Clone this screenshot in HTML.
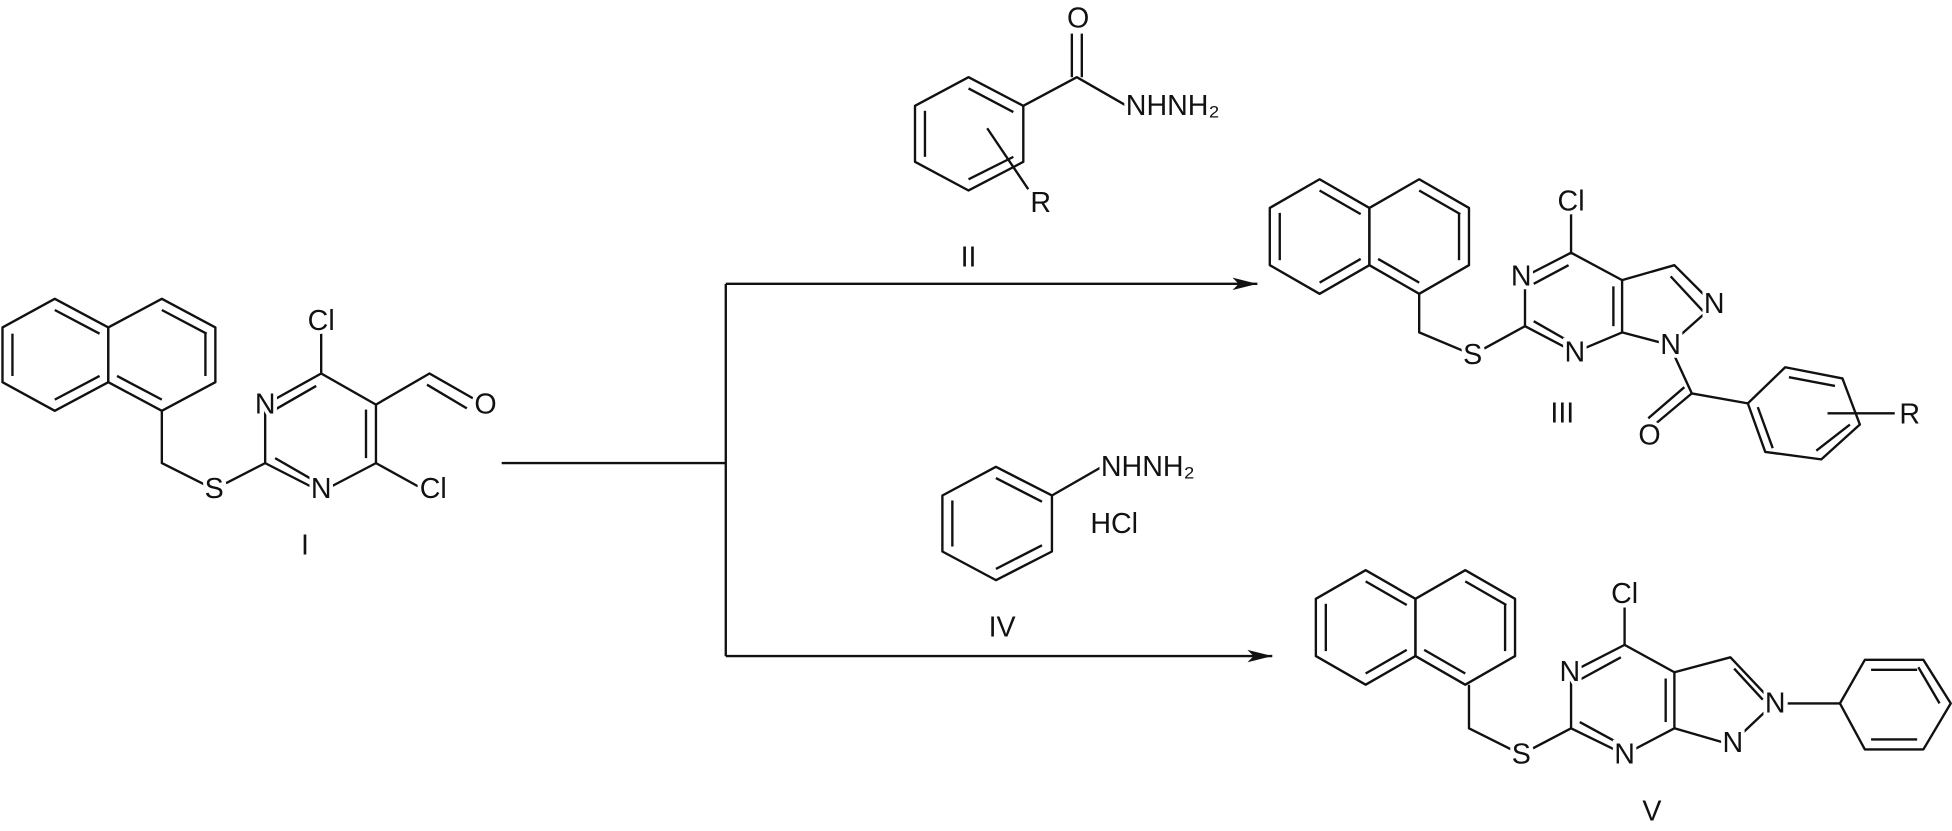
<!DOCTYPE html>
<html><head><meta charset="utf-8"><style>
html,body{margin:0;padding:0;background:#fff;}
svg{display:block;}
text{font-family:"Liberation Sans Narrow","Liberation Sans",sans-serif;font-size:23px;fill:#111;text-anchor:middle;dominant-baseline:central;paint-order:stroke;stroke:#fff;stroke-width:6px;}
</style></head><body>
<svg width="1952" height="831" viewBox="0 0 1568 667.5" xmlns="http://www.w3.org/2000/svg">
<defs><marker id="ah" markerWidth="20" markerHeight="10" refX="20" refY="5" orient="auto" markerUnits="userSpaceOnUse"><path d="M0,0 L20,5 L0,10 L5,5 z" fill="#111"/></marker></defs>
<g stroke="#111" stroke-width="1.9" fill="none" stroke-linejoin="round">
<polygon points="44,240 87,263 87,307 44,330 2,307 2,263"/>
<polygon points="130,240 173,263 173,307 130,330 87,307 87,263"/>
<line x1="10" y1="268" x2="10" y2="302"/><line x1="44" y1="249" x2="80" y2="268"/><line x1="44" y1="321" x2="80" y2="302"/>
<line x1="130" y1="249" x2="166" y2="268"/><line x1="165" y1="268" x2="165" y2="302"/><line x1="130" y1="321" x2="94" y2="302"/>
<polyline points="130,330 130,372 172,393 213,372 213,325 258,300 302,325 302,372 258,395 213,372"/>
<line x1="258" y1="300" x2="258" y2="268"/><line x1="302" y1="372" x2="340" y2="393"/>
<line x1="294" y1="329" x2="294" y2="368"/><line x1="221" y1="329" x2="254" y2="310"/><line x1="221" y1="368" x2="254" y2="387"/>
<polyline points="302,325 345,300 380,320"/><line x1="343" y1="309" x2="375" y2="328"/>
<polyline points="403,372 583,372"/>
<polyline points="583,228 583,527"/>
<line x1="583" y1="228" x2="1010" y2="228" marker-end="url(#ah)"/>
<line x1="583" y1="527" x2="1022" y2="527" marker-end="url(#ah)"/>
<polygon points="778,62 822,85 822,130 778,153 735,130 735,85"/>
<line x1="743" y1="89" x2="743" y2="126"/><line x1="778" y1="71" x2="814" y2="90"/><line x1="778" y1="144" x2="814" y2="126"/>
<polyline points="822,85 865,62 905,85"/><line x1="861" y1="62" x2="861" y2="27"/><line x1="869" y1="62" x2="869" y2="27"/>
<line x1="793" y1="103" x2="826" y2="152"/>
<polygon points="800,375 845,398 845,443 800,466 757,443 757,398"/>
<line x1="765" y1="402" x2="765" y2="439"/><line x1="800" y1="384" x2="837" y2="403"/><line x1="800" y1="457" x2="837" y2="438"/>
<line x1="845" y1="398" x2="885" y2="375"/>
<polygon points="1060,144 1100,167 1100,213 1060,236 1020,213 1020,167"/>
<polygon points="1140,144 1180,167 1180,213 1140,236 1100,213 1100,167"/>
<line x1="1028" y1="171" x2="1028" y2="209"/><line x1="1060" y1="153" x2="1093" y2="172"/><line x1="1060" y1="227" x2="1093" y2="208"/>
<line x1="1140" y1="153" x2="1173" y2="172"/><line x1="1172" y1="171" x2="1172" y2="209"/><line x1="1140" y1="227" x2="1107" y2="208"/>
<polyline points="1140,236 1140,267 1183,285 1225,262 1225,222 1262,203 1303,225 1303,267 1265,283 1225,262"/>
<line x1="1262" y1="203" x2="1262" y2="172"/>
<line x1="1232" y1="228" x2="1260" y2="213"/><line x1="1232" y1="258" x2="1260" y2="274"/><line x1="1296" y1="230" x2="1296" y2="262"/>
<polyline points="1303,225 1345,213 1377,245 1341,277 1303,267"/>
<line x1="1342" y1="222" x2="1368" y2="250"/>
<polyline points="1341,277 1359,316 1404,324"/>
<line x1="1359" y1="316" x2="1328" y2="342"/><line x1="1353" y1="311" x2="1324" y2="336"/>
<polygon points="1404,324 1434,295 1480,304 1494,341 1463,369 1418,363"/>
<line x1="1437" y1="303" x2="1474" y2="310"/><line x1="1486" y1="341" x2="1459" y2="362"/><line x1="1412" y1="327" x2="1424" y2="360"/>
<line x1="1468" y1="332" x2="1522" y2="332"/>
<polygon points="1097,458 1137,481 1137,527 1097,550 1057,527 1057,481"/>
<polygon points="1177,458 1217,481 1217,527 1177,550 1137,527 1137,481"/>
<line x1="1065" y1="485" x2="1065" y2="523"/><line x1="1097" y1="467" x2="1130" y2="486"/><line x1="1097" y1="541" x2="1130" y2="522"/>
<line x1="1177" y1="467" x2="1210" y2="486"/><line x1="1209" y1="485" x2="1209" y2="523"/><line x1="1177" y1="541" x2="1144" y2="522"/>
<polyline points="1180,550 1180,585 1222,606 1262,585 1262,540 1305,518 1345,540 1345,585 1305,606 1262,585"/>
<line x1="1305" y1="518" x2="1305" y2="488"/>
<line x1="1269" y1="546" x2="1302" y2="528"/><line x1="1269" y1="580" x2="1302" y2="598"/><line x1="1338" y1="545" x2="1338" y2="580"/>
<polyline points="1345,540 1390,528 1425,565 1390,598 1345,585"/>
<line x1="1393" y1="537" x2="1416" y2="562"/>
<line x1="1436" y1="565" x2="1478" y2="565"/>
<polygon points="1478,565 1498,530 1545,530 1567,565 1545,602 1498,602"/>
<line x1="1503" y1="538" x2="1540" y2="538"/><line x1="1503" y1="594" x2="1540" y2="594"/><line x1="1558" y1="565" x2="1541" y2="536"/>
</g>
<text x="258" y="258">Cl</text><text x="213" y="325">N</text><text x="390" y="325">O</text>
<text x="172" y="393">S</text><text x="258" y="393">N</text><text x="348" y="393">Cl</text>
<text x="245" y="438">I</text>
<text x="866" y="15">O</text><text x="942" y="85">NHNH₂</text><text x="836" y="163">R</text><text x="778" y="207">II</text>
<text x="922" y="375">NHNH₂</text><text x="895" y="421">HCl</text><text x="805" y="504">IV</text>
<text x="1262" y="162">Cl</text><text x="1222" y="222">N</text><text x="1377" y="244">N</text><text x="1183" y="285">S</text>
<text x="1265" y="283">N</text><text x="1342" y="277">N</text><text x="1255" y="332">III</text><text x="1325" y="350">O</text><text x="1534" y="333">R</text>
<text x="1305" y="477">Cl</text><text x="1261" y="540">N</text><text x="1426" y="565">N</text><text x="1222" y="606">S</text>
<text x="1305" y="606">N</text><text x="1392" y="597">N</text><text x="1327" y="652">V</text>
</svg>
</body></html>
